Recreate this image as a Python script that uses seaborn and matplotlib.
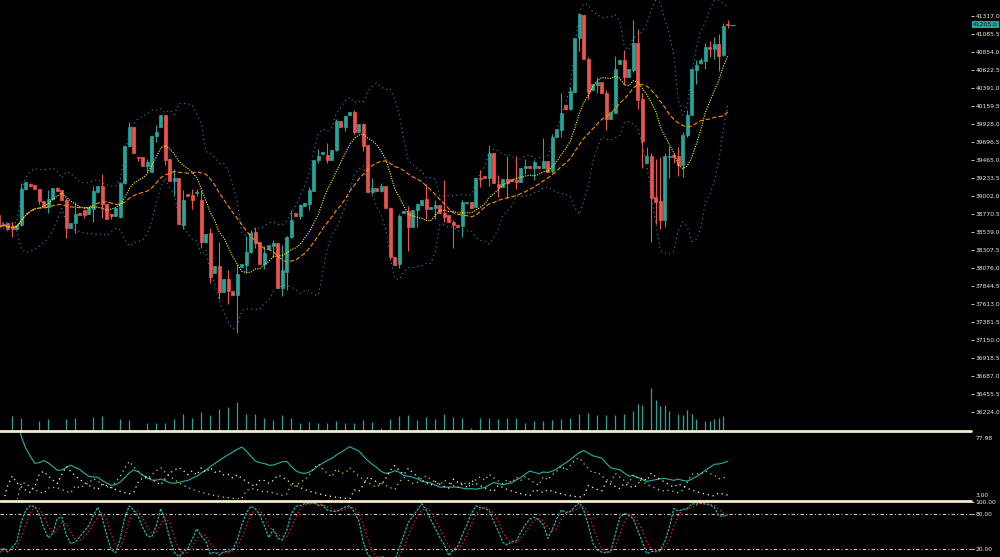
import numpy as np
import pandas as pd
import seaborn as sns
import matplotlib.pyplot as plt
from matplotlib.lines import Line2D

# OHLC, read candle by candle off the chart
opens = [38758, 38630, 38655, 38604, 38578, 38630, 39092, 39157, 39144, 39092,
         38938, 38861, 38964, 39105, 39080, 38951, 38591, 38655, 38783, 38822,
         38771, 38835, 39054, 39131, 38900, 38771, 38745, 38732, 39169, 39646,
         39890, 39504, 39504, 39388, 39311, 39774, 39890, 40044, 39478, 39195,
         39234, 38630, 39028, 39015, 39041, 38951, 38411, 38527, 38012, 38102,
         37768, 37935, 37781, 37729, 38089, 38115, 38282, 38540, 38411, 38128,
         38321, 38360, 38398, 37820, 38025, 38475, 38783, 38745, 38874, 38900,
         39067, 39465, 39543, 39530, 39465, 39594, 39967, 39890, 40044, 40083,
         39825, 39928, 39659, 39054, 39105, 39067, 39131, 38848, 38218, 38128,
         38783, 38809, 38604, 38822, 38887, 38964, 38835, 38848, 38887, 38783,
         38758, 38668, 38630, 38617, 38912, 38925, 38861, 39234, 39260, 39234,
         39555, 39157, 39118, 39221, 39221, 39208, 39182, 39362, 39388, 39362,
         39388, 39362, 39452, 39324, 39761, 39851, 40173, 40121, 40340, 41035,
         41330, 40764, 40366, 40430, 40468, 40327, 39993, 40070, 40700, 40751,
         40533, 40623, 40970, 40250, 39427, 39517, 38990, 38938, 38694, 39504,
         39530, 39517, 39401, 39787, 40044, 40623, 40713, 40739, 40918, 40893,
         40957, 40816, 41215]
highs = [38783, 38668, 38660, 38668, 38643, 39169, 39185, 39169, 39150, 39095,
         38940, 39080, 39110, 39118, 39083, 38977, 38658, 38925, 38786, 38825,
         38864, 39131, 39134, 39285, 38903, 38774, 38851, 39182, 39650, 39954,
         39893, 39507, 39507, 39478, 39777, 39916, 40048, 40048, 39481, 39350,
         39237, 39080, 39031, 39092, 39092, 39080, 38517, 38591, 38105, 38411,
         37938, 38051, 37784, 38128, 38131, 38488, 38565, 38604, 38414, 38360,
         38376, 38437, 38401, 38373, 38488, 38822, 38786, 38900, 38915, 39118,
         39468, 39607, 39571, 39684, 39597, 39993, 39970, 40044, 40086, 40108,
         39931, 39941, 39662, 39234, 39108, 39169, 39134, 38861, 38221, 38771,
         38812, 38874, 38825, 38912, 38954, 39157, 38864, 38951, 38890, 39208,
         38761, 38694, 38633, 38951, 38930, 38928, 39237, 39337, 39263, 39659,
         39558, 39273, 39224, 39517, 39224, 39517, 39365, 39478, 39391, 39465,
         39391, 39748, 39455, 39800, 39867, 40327, 40176, 40404, 41038, 41346,
         41333, 40790, 40446, 40533, 40471, 40366, 40086, 40803, 40754, 40880,
         40639, 41266, 41150, 40327, 39633, 39555, 39478, 39504, 39555, 39646,
         39555, 39633, 39825, 40108, 40640, 40751, 40777, 40970, 40996, 41047,
         41086, 41227, 41266]
lows = [38578, 38617, 38575, 38475, 38575, 38617, 39080, 39118, 39088, 38900,
        38858, 38783, 38960, 39065, 38948, 38462, 38588, 38527, 38755, 38720,
        38768, 38668, 39051, 38720, 38704, 38707, 38742, 38720, 39157, 39633,
        39552, 39452, 39385, 39311, 39308, 39697, 39886, 39401, 39192, 39000,
        38640, 38578, 39000, 38835, 39003, 38334, 38398, 37883, 38009, 37678,
        37765, 37613, 37726, 37240, 38086, 38012, 38269, 38334, 38125, 38063,
        38318, 38218, 37817, 37717, 37794, 38462, 38742, 38707, 38871, 38822,
        39064, 39427, 39540, 39427, 39462, 39581, 39887, 39838, 40041, 39800,
        39822, 39581, 39051, 39028, 39064, 39054, 38845, 38192, 38112, 38076,
        38780, 38295, 38601, 38604, 38884, 38707, 38832, 38707, 38780, 38668,
        38665, 38334, 38601, 38475, 38905, 38845, 38858, 39118, 39231, 39131,
        39166, 38990, 39115, 38977, 39192, 39092, 39179, 39285, 39359, 39208,
        39359, 39359, 39308, 39298, 39758, 39761, 40118, 40108, 40337, 40867,
        40761, 40250, 40363, 40327, 40324, 39851, 39990, 40067, 40697, 40430,
        40530, 40597, 40121, 39362, 39424, 38411, 38643, 38578, 38604, 39234,
        39427, 39260, 39247, 39761, 40041, 40443, 40700, 40636, 40790, 40764,
        40610, 40803, 41163]
closes = [38604, 38643, 38578, 38578, 38630, 39092, 39182, 39131, 39092, 38938,
          38861, 38964, 39105, 39067, 38951, 38591, 38655, 38771, 38758, 38758,
          38861, 39067, 39131, 38900, 38707, 38745, 38848, 39169, 39646, 39890,
          39555, 39491, 39388, 39440, 39774, 39825, 40044, 39465, 39195, 39234,
          38643, 38951, 39003, 38951, 39054, 38411, 38514, 37961, 38102, 37768,
          37935, 37781, 37729, 37999, 38128, 38282, 38527, 38398, 38128, 38269,
          38373, 38398, 37820, 38051, 38475, 38694, 38745, 38887, 38912, 39080,
          39465, 39517, 39568, 39465, 39594, 39967, 39890, 40031, 40083, 39825,
          39928, 39646, 39054, 39105, 39067, 39131, 38848, 38218, 38115, 38745,
          38809, 38604, 38822, 38900, 38951, 38835, 38861, 38887, 38783, 38732,
          38668, 38630, 38604, 38925, 38925, 38848, 39234, 39221, 39234, 39555,
          39169, 39118, 39221, 39169, 39195, 39182, 39362, 39388, 39362, 39440,
          39362, 39452, 39311, 39761, 39864, 40070, 40121, 40353, 41035, 41343,
          40764, 40340, 40443, 40468, 40327, 39993, 40083, 40636, 40751, 40533,
          40636, 40970, 40237, 39710, 39517, 38977, 38925, 38694, 39517, 39517,
          39504, 39401, 39787, 40044, 40636, 40687, 40751, 40918, 40893, 40957,
          40803, 41189, 41205]
volumes = [0, 0, 0, 1500, 0, 1300, 0, 0, 0, 1000,
           0, 1200, 0, 0, 0, 1200, 0, 1300, 0, 100,
           0, 1400, 0, 1500, 0, 0, 0, 1200, 0, 1100,
           0, 0, 0, 800, 0, 800, 0, 800, 0, 1200,
           0, 1700, 0, 1300, 0, 1900, 0, 1600, 0, 2200,
           0, 2400, 0, 2900, 0, 1700, 0, 1700, 0, 1300,
           0, 1100, 0, 1600, 0, 1300, 0, 800, 0, 900,
           0, 800, 0, 800, 0, 1000, 0, 800, 0, 800,
           0, 1100, 0, 900, 0, 300, 0, 1200, 0, 1500,
           0, 1600, 0, 1100, 0, 1400, 0, 1200, 0, 1700,
           0, 1400, 0, 1300, 0, 300, 0, 1300, 0, 1300,
           0, 1200, 0, 1300, 0, 1300, 0, 800, 0, 1000,
           0, 1000, 0, 1100, 0, 1200, 0, 1300, 0, 1700,
           0, 1800, 0, 1600, 0, 1600, 0, 1600, 0, 1700,
           0, 2000, 2700, 2600, 100, 4300, 3100, 2500, 2600, 2000,
           100, 1700, 1600, 2100, 1700, 1200, 0, 1000, 1000, 1200,
           1300, 1500, 100]

price_ticks = [36224.0 + 231.5 * k for k in range(23)]
dmi_labels = ['77.98', '3.00']
stoch_levels = [80, 20]
stoch_ticks = [100, 80, 20, 0]

BG = '#000000'
UP = '#26A69A'
DOWN = '#EF5350'
CREAM = '#F5EBCB'
FS = 4.3

df = pd.DataFrame({'Open': opens, 'High': highs, 'Low': lows,
                   'Close': closes, 'Volume': volumes})
df['i'] = np.arange(len(df))

# Moving averages and Bollinger bands
df['MA10'] = df['Close'].rolling(10, min_periods=1).mean()
df['MA20'] = df['Close'].rolling(20, min_periods=1).mean()
std10 = df['Close'].rolling(10, min_periods=1).std(ddof=0)
df['BBU'] = df['MA10'] + 2 * std10
df['BBL'] = df['MA10'] - 2 * std10

# ADX / DMI, terminal style (per-bar DI, EMA smoothing)
pdm = df['High'].diff().clip(lower=0).fillna(0)
mdm = (-df['Low'].diff()).clip(lower=0).fillna(0)
pdm2 = np.where(pdm > mdm, pdm, 0.0)
mdm2 = np.where(mdm > pdm, mdm, 0.0)
prev_c = df['Close'].shift()
tr = pd.concat([df['High'] - df['Low'], (df['High'] - prev_c).abs(),
                (df['Low'] - prev_c).abs()], axis=1).max(axis=1)
pdi_raw = pd.Series(100 * pdm2 / tr)
mdi_raw = pd.Series(100 * mdm2 / tr)
df['PDI'] = pdi_raw.ewm(span=14).mean()
df['MDI'] = mdi_raw.ewm(span=14).mean()
dx = 100 * (df['PDI'] - df['MDI']).abs() / (df['PDI'] + df['MDI'])
df['ADX'] = dx.ewm(span=14).mean()

# Stochastic 5,3,3
ll = df['Low'].rolling(5, min_periods=1).min()
hh = df['High'].rolling(5, min_periods=1).max()
num = (df['Close'] - ll).rolling(3, min_periods=1).sum()
den = (hh - ll).rolling(3, min_periods=1).sum()
df['K'] = 100 * num / den
df['D'] = df['K'].rolling(3, min_periods=1).mean()

sns.set_theme(style='dark')
plt.rcParams['font.family'] = ['DejaVu Sans']

fig = plt.figure(figsize=(10, 5.57), dpi=100, facecolor=BG)
H = 557.0
right = 0.971
ax = fig.add_axes([0, 1 - 431 / H, right, 431 / H])
ax2 = fig.add_axes([0, 1 - 499 / H, right, 66 / H], sharex=ax)
ax3 = fig.add_axes([0, 1 - 561 / H, right, 59 / H], sharex=ax)
axv = ax.twinx()

for a in (ax, ax2, ax3, axv):
    a.set_facecolor('none')
    for s in a.spines.values():
        s.set_visible(False)
    a.grid(False)
ax.set_facecolor(BG)
ax2.set_facecolor(BG)
ax3.set_facecolor(BG)

# Volume in the lower part of the price window
axv.vlines(df['i'], 0, df['Volume'], color=UP, linewidth=0.9)
axv.set_ylim(0, 43100)
axv.set_yticks([])

# Candles
is_up = df['Close'] >= df['Open']
colors = np.where(is_up, UP, DOWN)
ax.vlines(df['i'], df['Low'], df['High'], color=colors, linewidth=0.8)
body_lo = np.minimum(df['Open'], df['Close'])
body_h = (df['Close'] - df['Open']).abs()
ax.bar(df['i'], body_h, bottom=body_lo, width=0.62, color=colors,
       edgecolor=colors, linewidth=0.5)

sns.lineplot(data=df, x='i', y='BBU', ax=ax, color='#3F7FC0',
             linewidth=0.8, linestyle=(0, (1, 3)))
sns.lineplot(data=df, x='i', y='BBL', ax=ax, color='#3F7FC0',
             linewidth=0.8, linestyle=(0, (1, 3)))
sns.lineplot(data=df, x='i', y='MA20', ax=ax, color='#FF8C00',
             linewidth=0.8, linestyle=(0, (4, 2)))
sns.lineplot(data=df, x='i', y='MA10', ax=ax, color='#FFFF00',
             linewidth=0.8, linestyle=(0, (1, 1.2)))

last = df['Close'].iloc[-1]
n = len(df)
ax.hlines(last, n - 0.4, n + 0.5, color=UP, linewidth=0.9)

px = 4.5
ax.set_xlim(1.2 / px, (971 + 1.2) / px)
ax.set_ylim(41523 - 12.86 * 431, 41523)
ax.set_xlabel(None)
ax.set_ylabel(None)
ax.yaxis.tick_right()
ax.set_yticks(price_ticks)
ax.set_yticklabels(['%.1f' % t for t in price_ticks])
ax.tick_params(axis='y', colors=CREAM, labelsize=FS, length=2.5, width=0.6,
               pad=0.8, labelcolor=CREAM)
ax.tick_params(axis='x', bottom=False, labelbottom=False)
y0, y1 = ax.get_ylim()
ax.text(1.002, (last - y0) / (y1 - y0), '%.1f' % last, transform=ax.transAxes,
        fontsize=FS, color='#06201E', va='center', ha='left', clip_on=False,
        bbox=dict(boxstyle='square,pad=0.2', fc=UP, ec='none'))

# DMI window
sns.lineplot(data=df, x='i', y='ADX', ax=ax2, color='#20B2AA', linewidth=0.8)
sns.lineplot(data=df, x='i', y='PDI', ax=ax2, color='#B5E61D',
             linewidth=0.9, linestyle=(0, (1, 3)))
sns.lineplot(data=df, x='i', y='MDI', ax=ax2, color='#FFF8DC',
             linewidth=0.9, linestyle=(0, (1, 3)))
ax2.set_ylim(float(dmi_labels[1]), float(dmi_labels[0]))
ax2.set_yticks([])
ax2.tick_params(axis='x', bottom=False, labelbottom=False)
ax2.set_xlabel(None)
ax2.set_ylabel(None)
ax2.text(1.005, 0.96, dmi_labels[0], transform=ax2.transAxes, fontsize=FS,
         color=CREAM, va='top', ha='left')
ax2.text(1.005, 0.02, dmi_labels[1], transform=ax2.transAxes, fontsize=FS,
         color=CREAM, va='bottom', ha='left')

# Stochastic window
for lv in stoch_levels:
    ax3.axhline(lv, color='#C8C8C8', linewidth=0.8, linestyle=(0, (3, 2, 1, 2)))
sns.lineplot(data=df, x='i', y='K', ax=ax3, color='#20B2AA',
             linewidth=0.9, linestyle=(0, (2, 1)))
sns.lineplot(data=df, x='i', y='D', ax=ax3, color='#FF2020',
             linewidth=0.9, linestyle=(0, (1, 2)))
ax3.set_ylim(0, 100)
ax3.yaxis.tick_right()
ax3.set_yticks(stoch_ticks)
ax3.set_yticklabels(['%.2f' % t for t in stoch_ticks])
ax3.tick_params(axis='y', colors=CREAM, labelsize=FS, length=2.5, width=0.6,
                pad=0.8, labelcolor=CREAM)
ax3.tick_params(axis='x', bottom=False, labelbottom=False)
ax3.set_xlabel(None)
ax3.set_ylabel(None)

# Window separators
for yy in (431, 501):
    fig.add_artist(Line2D([0, right], [1 - yy / H] * 2, transform=fig.transFigure,
                          color=CREAM, linewidth=2))

fig.savefig('out.png', dpi=100, facecolor=BG)
